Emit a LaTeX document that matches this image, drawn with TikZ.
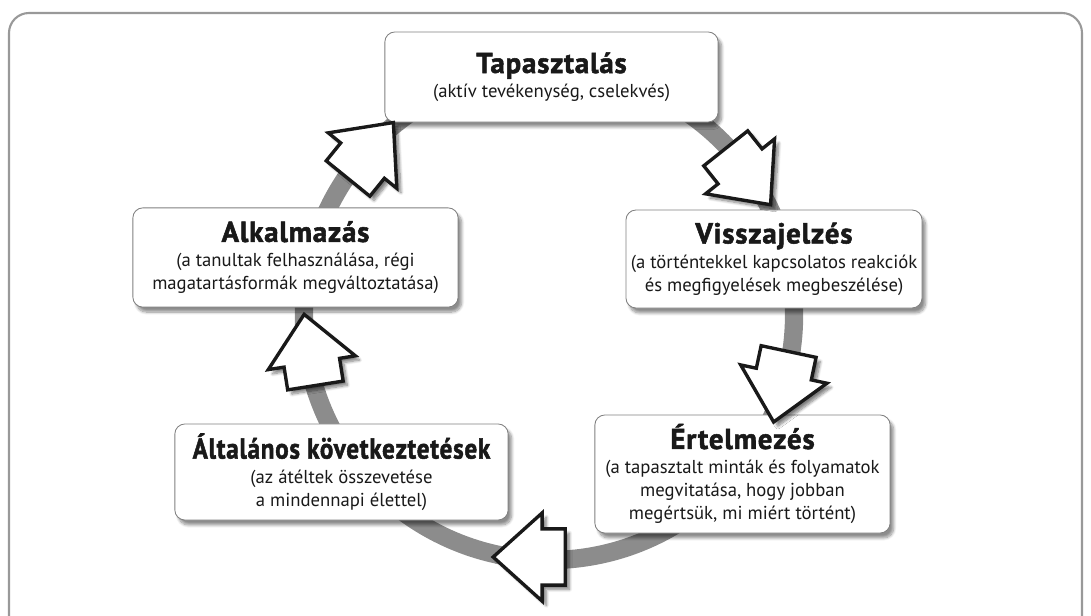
\documentclass[tikz,border=0pt]{standalone}
\usepackage{fontspec}
\setmainfont{PT Sans}
\newfontfamily\cimbetu{PT Sans}[LetterSpace=3, BoldFeatures={FakeBold=1.8}]
\usetikzlibrary{shapes.arrows,shadows.blur}
\newcommand{\cimsor}[1]{{\fontsize{20.5}{22}\selectfont\cimbetu\bfseries #1}}

\begin{document}
\begin{tikzpicture}[x=0.025cm, y=-0.025cm,
    doboz/.style={draw=black!50, line width=0.6pt, fill=white, rounded corners=0.25cm,
      align=center, inner sep=0pt, text=black!90, font=\fontsize{13.3}{16.5}\selectfont,
      blur shadow={shadow xshift=2.5pt, shadow yshift=-3.5pt, shadow blur steps=8, shadow opacity=45}},
    nyil/.style={single arrow, draw=black!90, line width=2.4pt, fill=white, inner sep=0pt,
      text width=0.1cm, text height=0.66cm, text depth=0.66cm,
      minimum height=1.8cm, single arrow head extend=0.4cm,
      single arrow tip angle=84,
      blur shadow={shadow xshift=3pt, shadow yshift=-3pt, shadow blur steps=8, shadow opacity=50}}]
    \useasboundingbox (0,0) rectangle (1091,616);
    % keret
    \draw [black!40, line width=1.5pt, rounded corners=0.5cm] (9,640) -- (9,13) -- (1082,13) -- (1082,640);
    % kor
    \coordinate (kozep) at (549,315);
    \draw [black!45, line width=13pt] (kozep) circle [radius=6.125cm];
    % dobozok
    \node [doboz, minimum width=8.33cm, minimum height=2.25cm] (tapasztalas) at (551.5,77)
        {\cimsor{Tapasztalás}\\[1pt](aktív tevékenység, cselekvés)};
    \node [doboz, minimum width=7.4cm, minimum height=2.45cm] (visszajelzes) at (774,259)
        {\cimsor{Visszajelzés}\\[1pt](a történtekkel kapcsolatos reakciók\\és megfigyelések megbeszélése)};
    \node [doboz, minimum width=7.38cm, minimum height=2.95cm] (ertelmezes) at (742.5,474)
        {\cimsor{Értelmezés}\\[1pt](a tapasztalt minták és folyamatok\\megvitatása, hogy jobban\\megértsük, mi miért történt)};
    \node [doboz, minimum width=8.33cm, minimum height=2.4cm] (altalanos) at (341.5,472)
        {\scalebox{0.87}[1]{\cimsor{Általános következtetések}}\\[1pt](az átéltek összevetése\\a mindennapi élettel)};
    \node [doboz, minimum width=8.13cm, minimum height=2.48cm] (alkalmazas) at (295.5,257.5)
        {\cimsor{Alkalmazás}\\[1pt](a tanultak felhasználása, régi\\magatartásformák megváltoztatása)};
    % nyilak a korre
    \foreach \a/\r [count=\i] in {141/51, 38.5/-51.5, -13.5/-102, -91/180, 192/99}
        \node [nyil, rotate=\r] (nyil\i) at ([shift={(\a:6.05cm)}]kozep) {};
\end{tikzpicture}
\end{document}
